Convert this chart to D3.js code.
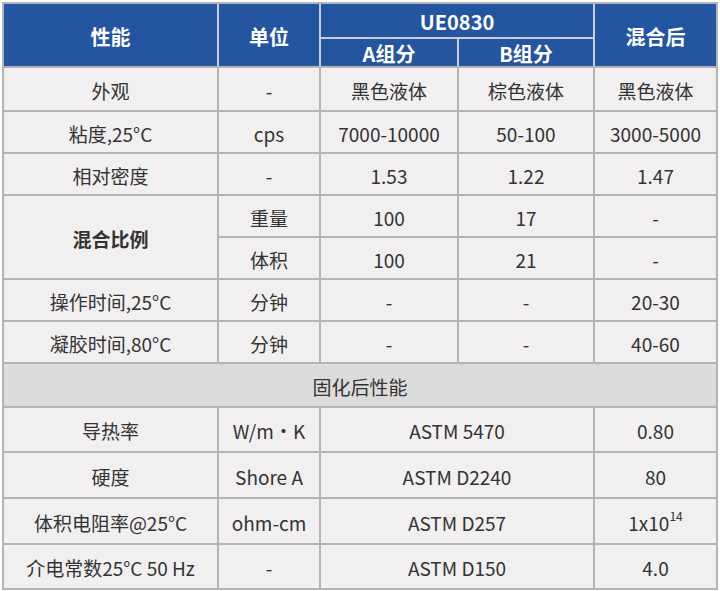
<!DOCTYPE html><html><head><meta charset="utf-8"><script src="https://cdn.jsdelivr.net/npm/d3@7"></script>
<style>body{margin:0;background:#fff}svg{display:block}</style></head><body><svg width="720" height="591"></svg>
<script>
const colX=[3,218,320,458,594,717];
const rowY=[3,38,67,111,153,195,237,279,321,363,407,452,498,544,589];
const headers=[
 {r:[0,2],c:[0,1],t:"性能"},{r:[0,2],c:[1,2],t:"单位"},{r:[0,1],c:[2,4],t:"UE0830"},
 {r:[1,2],c:[2,3],t:"A组分"},{r:[1,2],c:[3,4],t:"B组分"},{r:[0,2],c:[4,5],t:"混合后"}];
const props=["外观","粘度,25°C","相对密度","混合比例","操作时间,25°C","凝胶时间,80°C"];
const units=["-","cps","-","重量","体积","分钟","分钟"];
const partA=["黑色液体","7000-10000","1.53","100","100","-","-"];
const partB=["棕色液体","50-100","1.22","17","21","-","-"];
const mixed=["黑色液体","3000-5000","1.47","-","-","20-30","40-60"];
const section="固化后性能";
const curedProps=["导热率","硬度","体积电阻率@25°C","介电常数25°C 50 Hz"];
const curedUnits=["W/m·K","Shore A","ohm-cm","-"];
const curedMethods=["ASTM 5470","ASTM D2240","ASTM D257","ASTM D150"];
const curedValues=["0.80","80","1x10<sup>14</sup>","4.0"];

const cells=[];
const propSpan=[[2,3],[3,4],[4,5],[5,7],[7,8],[8,9]];
props.forEach((p,i)=>cells.push({r:propSpan[i],c:[0,1],t:p,b:p==="混合比例"}));
units.forEach((u,i)=>{const r=[i+2,i+3];
 cells.push({r,c:[1,2],t:u},{r,c:[2,3],t:partA[i]},{r,c:[3,4],t:partB[i]},{r,c:[4,5],t:mixed[i]});});
cells.push({r:[9,10],c:[0,5],t:section,sec:true});
curedProps.forEach((p,i)=>{const r=[i+10,i+11];
 cells.push({r,c:[0,1],t:p},{r,c:[1,2],t:curedUnits[i]},{r,c:[2,4],t:curedMethods[i]},{r,c:[4,5],t:curedValues[i],sup:true});});

const svg=d3.select("svg");
svg.append("rect").attr("x",0).attr("y",0).attr("width",720).attr("height",591).attr("fill","#fff");
const font="'Noto Sans CJK SC','Noto Sans',sans-serif";
function draw(list,fill,col,weight,size){
 const g=svg.selectAll(null).data(list).enter().append("g");
 g.append("rect").attr("x",d=>colX[d.c[0]]).attr("y",d=>rowY[d.r[0]])
  .attr("width",d=>colX[d.c[1]]-colX[d.c[0]]).attr("height",d=>rowY[d.r[1]]-rowY[d.r[0]])
  .attr("fill",d=>d.sec?"#dddcdc":fill).attr("stroke","#b4b4b4").attr("stroke-width",2);
 g.each(function(d){
  const t=d3.select(this).append("text").attr("x",(colX[d.c[0]]+colX[d.c[1]])/2).attr("y",(rowY[d.r[0]]+rowY[d.r[1]])/2+1)
   .attr("text-anchor","middle").attr("dominant-baseline","central").attr("font-family",font)
   .attr("font-size",size).attr("fill",col).attr("font-weight",d.b?"bold":weight);
  if(d.t.includes("<sup>")){const [a,b]=d.t.replace("</sup>","").split("<sup>");
   t.append("tspan").text(a);t.append("tspan").attr("font-size",12).attr("dy",-7).text(b);}
  else t.text(d.t);
 });
}
draw(headers,"#2355a0","#fff","bold",20);
svg.selectAll("rect").attr("stroke",function(){return d3.select(this).attr("stroke")});
draw(cells,"#f1eff0","#333","normal",19);
svg.selectAll("g").filter(d=>d&&d.r&&d.r[1]<=2).select("rect").attr("stroke","#c8cdd8");
svg.append("rect").attr("x",3).attr("y",3).attr("width",714).attr("height",586).attr("fill","none").attr("stroke","#b4b4b4").attr("stroke-width",2);
</script></body></html>
